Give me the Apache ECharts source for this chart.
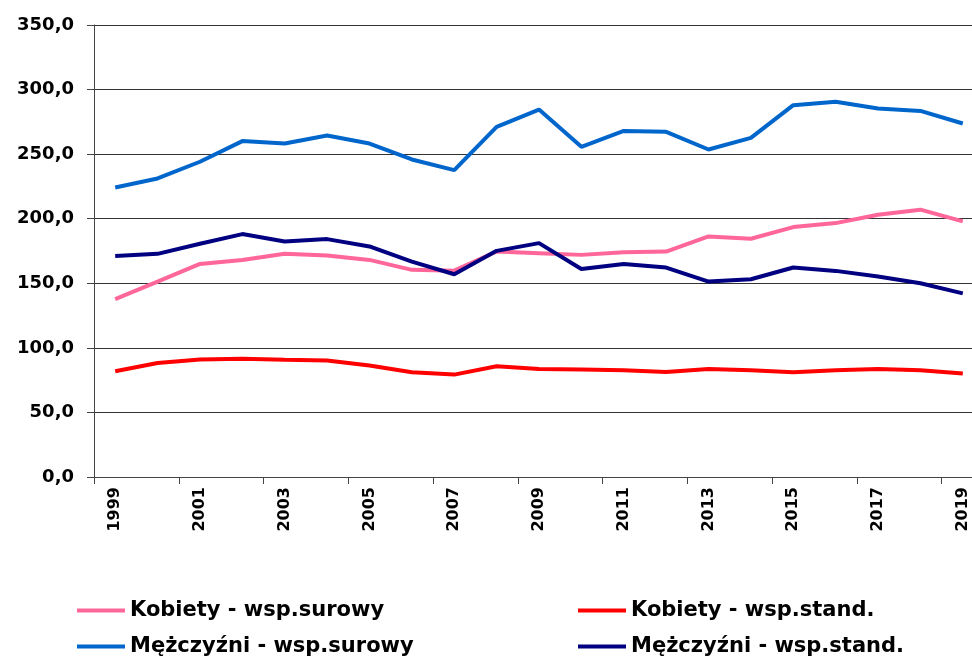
<!DOCTYPE html>
<html>
<head>
<meta charset="utf-8">
<script src="https://cdn.jsdelivr.net/npm/echarts@6/dist/echarts.min.js"></script>
<style>
  html, body { margin: 0; padding: 0; background: #fff; overflow: hidden; }
  /* wykres szerszy niż okno - prawa krawędź obszaru jest ucięta jak w oryginale */
  #chart { width: 984px; height: 659px; }
</style>
</head>
<body>
<div id="chart"></div>
<script>
// lata
var years = ['1999', '2000', '2001', '2002', '2003', '2004', '2005', '2006', '2007', '2008', '2009',
  '2010', '2011', '2012', '2013', '2014', '2015', '2016', '2017', '2018', '2019'];

// wartości
var kobietySurowy = [137.8, 151.3, 165.0, 168.1, 172.8, 171.5, 168.1, 160.4, 159.8, 174.6, 173.3,
  172.0, 174.1, 174.6, 186.3, 184.5, 193.5, 196.6, 203.1, 207.0, 197.9];
var kobietyStand = [81.9, 88.3, 90.9, 91.5, 90.7, 90.2, 86.3, 81.1, 79.3, 85.8, 83.7,
  83.2, 82.6, 81.3, 83.7, 82.6, 81.1, 82.6, 83.7, 82.6, 80.1];
var mezczyzniSurowy = [224.2, 231.2, 244.1, 260.1, 258.2, 264.4, 258.2, 245.9, 237.6, 271.1, 284.5,
  255.7, 268.0, 267.3, 253.6, 262.6, 287.9, 290.5, 285.3, 283.5, 273.7];
var mezczyzniStand = [171.2, 172.8, 180.6, 188.1, 182.4, 184.2, 178.5, 166.8, 157.0, 175.1, 181.1,
  161.1, 165.0, 162.2, 151.3, 153.1, 162.2, 159.6, 155.2, 150.0, 142.2];

var seriesNames = ['Kobiety - wsp.surowy', 'Kobiety - wsp.stand.', 'Mężczyźni - wsp.surowy', 'Mężczyźni - wsp.stand.'];
var seriesColors = ['#ff6699', '#ff0000', '#0066cc', '#000080'];
var seriesData = [kobietySurowy, kobietyStand, mezczyzniSurowy, mezczyzniStand];

var font = 'DejaVu Sans';

// legenda - każda pozycja osobno, układ 2x2
var legendPos = [
  { left: 77, top: 600 },
  { left: 578, top: 600 },
  { left: 77, top: 636 },
  { left: 578, top: 636 }
];
var legends = seriesNames.map(function(name, i) {
  return {
    data: [name],
    left: legendPos[i].left,
    top: legendPos[i].top,
    padding: 0,
    icon: 'rect',
    itemWidth: 48,
    itemHeight: 4,
    itemGap: 0,
    selectedMode: false,
    textStyle: { fontFamily: font, fontWeight: 'bold', fontSize: 21, color: '#000' }
  };
});

var series = seriesNames.map(function(name, i) {
  return {
    name: name,
    type: 'line',
    data: seriesData[i],
    showSymbol: false,
    color: seriesColors[i],
    lineStyle: { width: 4, color: seriesColors[i] },
    animation: false
  };
});

var myChart = echarts.init(document.getElementById('chart'));
var option = {
  animation: false,
  backgroundColor: '#fff',
  grid: { left: 94, top: 25, right: 0, bottom: 182 },
  legend: legends,
  xAxis: {
    type: 'category',
    data: years,
    boundaryGap: true,
    axisLine: { lineStyle: { color: '#444', width: 1 } },
    axisTick: { show: true, length: 7, inside: false, lineStyle: { color: '#444' } },
    axisLabel: {
      rotate: 90,
      interval: 1,
      margin: 10,
      fontFamily: font,
      fontWeight: 'bold',
      fontSize: 16,
      color: '#000'
    },
    splitLine: { show: false }
  },
  yAxis: {
    type: 'value',
    min: 0,
    max: 350,
    interval: 50,
    axisLine: { show: true, lineStyle: { color: '#444', width: 1 } },
    axisTick: { show: true, length: 7, lineStyle: { color: '#444' } },
    axisLabel: {
      margin: 20,
      fontFamily: font,
      fontWeight: 'bold',
      fontSize: 18,
      color: '#000',
      formatter: function(v) { return v.toFixed(1).replace('.', ','); }
    },
    splitLine: { show: true, lineStyle: { color: '#333', width: 1 } }
  },
  series: series
};
myChart.setOption(option);
</script>
</body>
</html>
